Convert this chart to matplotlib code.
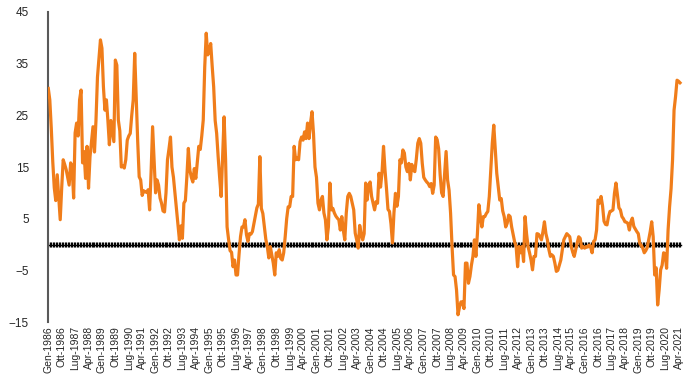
import matplotlib
matplotlib.use("Agg")
import matplotlib.pyplot as plt
import numpy as np

plt.rcParams['font.family'] = ['Liberation Sans', 'DejaVu Sans']

# valori mensili, Gen-1986 .. Mag-2021
v1986 = [30.2, 28.0, 22.5, 16.0, 11.0, 8.5, 13.5, 9.0, 4.8, 11.0, 16.4, 15.5]
v1987 = [14.5, 13.0, 11.5, 15.8, 15.0, 9.0, 21.6, 23.5, 21.0, 28.0, 29.9, 15.8]
v1988 = [18.0, 12.8, 19.0, 10.9, 17.0, 20.0, 22.8, 17.9, 24.0, 32.4, 36.0, 39.6]
v1989 = [38.0, 30.5, 26.0, 28.0, 24.0, 19.3, 24.0, 22.0, 19.9, 35.7, 34.7, 24.1]
v1990 = [22.0, 15.0, 15.2, 14.8, 16.4, 20.2, 21.0, 21.5, 25.0, 28.0, 37.0, 28.6]
v1991 = [20.0, 13.1, 12.5, 9.5, 10.4, 10.2, 10.1, 10.6, 6.7, 14.0, 22.8, 16.4]
v1992 = [10.0, 12.5, 11.5, 9.0, 8.0, 6.5, 6.3, 10.0, 16.4, 18.5, 20.8, 15.0]
v1993 = [13.0, 10.0, 7.0, 4.2, 0.9, 3.6, 1.2, 8.0, 8.5, 13.1, 18.6, 14.4]
v1994 = [13.0, 12.1, 14.7, 12.8, 16.0, 19.0, 18.4, 21.0, 24.1, 34.4, 40.9, 36.7]
v1995 = [37.5, 38.9, 34.5, 30.5, 24.0, 21.5, 17.0, 13.0, 9.3, 17.0, 24.7, 16.4]
v1996 = [3.4, 1.0, -1.2, -1.5, -4.3, -3.0, -5.9, -5.9, -2.0, 1.5, 3.4, 3.4]
v1997 = [4.8, 1.9, 0.6, 2.1, 2.0, 2.5, 4.0, 5.4, 7.1, 7.8, 17.0, 7.0]
v1998 = [6.0, 3.5, 1.0, -0.4, -2.6, -0.4, -2.0, -3.6, -5.9, -1.6, -2.3, -1.0]
v1999 = [-2.7, -3.0, -1.6, 1.5, 5.0, 7.3, 7.3, 9.3, 9.3, 19.0, 16.4, 16.7]
v2000 = [16.4, 19.9, 20.8, 20.2, 21.8, 20.5, 23.5, 20.5, 23.5, 25.7, 21.5, 15.0]
v2001 = [13.0, 8.0, 6.7, 8.6, 9.3, 6.1, 4.8, 0.9, 3.4, 11.9, 6.7, 7.0]
v2002 = [6.1, 5.5, 5.1, 4.8, 2.8, 5.4, 2.8, 0.9, 6.1, 9.3, 9.9, 9.3]
v2003 = [8.0, 6.7, 2.2, 0.9, -0.7, 3.7, 2.1, 0.9, 2.1, 11.9, 8.6, 11.5]
v2004 = [12.1, 9.3, 8.0, 6.7, 8.3, 8.0, 13.8, 11.1, 14.0, 19.0, 14.4, 10.8]
v2005 = [6.8, 6.4, 4.0, 0.3, 6.1, 9.9, 7.4, 9.3, 16.4, 15.8, 18.3, 17.7]
v2006 = [15.0, 14.1, 15.7, 12.5, 15.5, 14.4, 14.1, 16.5, 19.6, 20.5, 19.6, 15.7]
v2007 = [13.0, 12.5, 12.1, 11.8, 11.2, 11.8, 9.9, 11.5, 20.8, 20.3, 18.5, 13.5]
v2008 = [10.0, 9.3, 13.8, 18.0, 12.5, 10.5, 6.1, -0.4, -5.9, -6.2, -8.8, -13.6]
v2009 = [-12.1, -11.1, -11.1, -12.4, -3.6, -3.6, -7.5, -6.2, -4.0, -2.3, 0.9, -2.3]
v2010 = [2.0, 7.7, 5.4, 3.4, 5.4, 5.4, 6.0, 6.4, 9.3, 14.4, 19.6, 23.1]
v2011 = [18.3, 13.8, 11.2, 8.6, 8.9, 6.5, 5.4, 3.4, 4.1, 5.7, 5.4, 3.4]
v2012 = [1.9, 0.5, -0.4, -4.3, -0.4, -1.6, -0.4, -3.3, 5.4, 2.1, -0.4, -1.6]
v2013 = [-3.0, -4.9, -2.3, -2.3, 2.1, 2.0, 1.5, 0.9, 2.5, 4.4, 2.1, 0.9]
v2014 = [-1.0, -2.3, -2.0, -2.3, -3.6, -5.2, -5.0, -4.0, -3.0, -1.0, 0.9, 1.5]
v2015 = [2.1, 1.8, 1.5, -0.4, -1.5, -2.3, -1.0, 0.3, 1.5, 1.2, -0.7, -0.4]
v2016 = [-0.7, -0.4, -0.5, -0.1, -0.5, -1.6, 0.6, 0.9, 2.8, 8.6, 8.0, 9.3]
v2017 = [7.5, 4.5, 3.9, 3.8, 5.4, 6.4, 6.5, 6.7, 9.9, 11.9, 9.6, 7.1]
v2018 = [6.7, 5.4, 5.0, 4.4, 4.3, 4.1, 2.8, 4.4, 5.1, 3.5, 3.0, 2.5]
v2019 = [2.1, 0.2, -0.2, -0.7, -1.6, -1.2, -0.6, 1.0, 2.5, 4.4, 1.5, -5.9]
v2020 = [-4.5, -11.7, -8.8, -4.9, -4.0, -1.6, -1.8, -4.6, 2.8, 7.3, 10.8, 16.4]
v2021 = [26.0, 28.6, 31.8, 31.6, 31.3]

mesi = ['Gen', 'Feb', 'Mar', 'Apr', 'Mag', 'Giu',
        'Lug', 'Ago', 'Set', 'Ott', 'Nov', 'Dic']
anno_inizio = 1986
passo_etichette = 9
yticks = [-15, -5, 5, 15, 25, 35, 45]

valori = np.array(v1986 + v1987 + v1988 + v1989 + v1990 + v1991 + v1992 + v1993
                  + v1994 + v1995 + v1996 + v1997 + v1998 + v1999 + v2000 + v2001
                  + v2002 + v2003 + v2004 + v2005 + v2006 + v2007 + v2008 + v2009
                  + v2010 + v2011 + v2012 + v2013 + v2014 + v2015 + v2016 + v2017
                  + v2018 + v2019 + v2020 + v2021)
x = np.arange(len(valori))

fig = plt.figure(figsize=(7, 3.75), dpi=100)
ax = fig.add_axes([0.069, 0.1413, 0.9167, 0.8267])

# linea dello zero con le tacche mensili
ax.axhline(0, color='black', lw=1.0, xmin=0, xmax=(x[-1] + 1) / 430.7, zorder=1)
ax.vlines(x, -0.5, 0.5, color='black', lw=0.9, zorder=1)

ax.plot(x, valori, color='#F07D1A', lw=2.3, zorder=3)

ax.set_xlim(0, 430.7)
ax.set_ylim(-15, 45)
ax.set_yticks(yticks)

pos = x[::passo_etichette]
etichette = [mesi[m % 12] + '-' + str(anno_inizio + m // 12) for m in pos]
ax.set_xticks(pos)
ax.set_xticklabels(etichette, rotation=90, fontsize=7.5, color='#262626')
ax.tick_params(axis='x', length=0, pad=3)
ax.tick_params(axis='y', length=0, pad=14, labelsize=8.5, labelcolor='#262626')

for s in ['top', 'right', 'bottom']:
    ax.spines[s].set_visible(False)
ax.spines['left'].set_color('#595959')
ax.spines['left'].set_linewidth(1.5)

fig.savefig('out.png', dpi=100)
